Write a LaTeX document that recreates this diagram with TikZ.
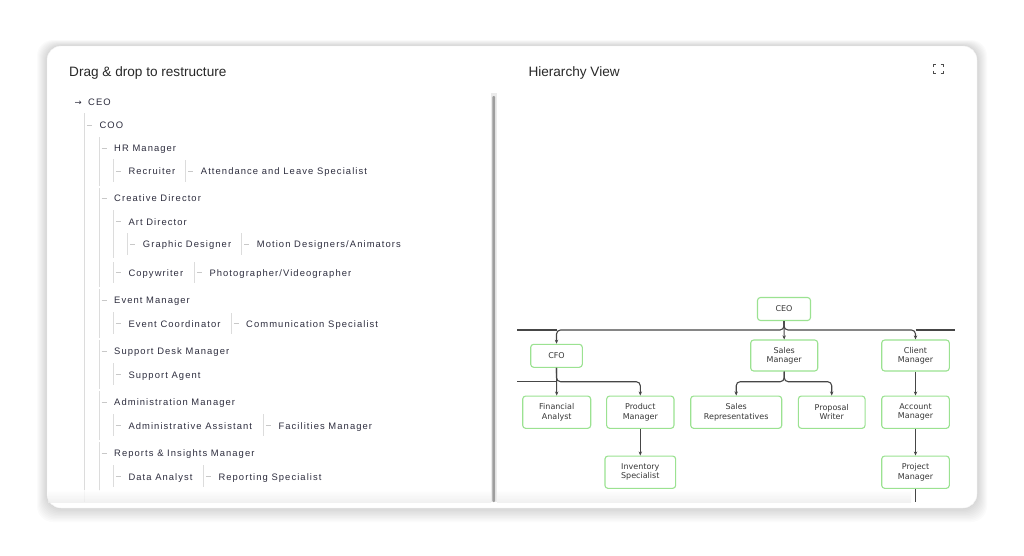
\documentclass[tikz,border=0pt]{standalone}
\usepackage{fontspec}
\setmainfont{Liberation Sans}
\newfontfamily\treefont[LetterSpace=11.5]{Liberation Sans}
\newfontfamily\boxfont{DejaVu Sans}
\newfontfamily\symfont{DejaVu Sans}
\usetikzlibrary{arrows.meta}
\definecolor{treetext}{RGB}{45,45,62}
\definecolor{guidecol}{RGB}{220,220,220}
\definecolor{dashcol}{RGB}{200,200,200}
\definecolor{headcol}{RGB}{40,40,40}
\definecolor{boxgreen}{RGB}{155,226,145}
\definecolor{boxtext}{RGB}{55,55,55}
\definecolor{conncol}{RGB}{70,70,70}
\tikzset{
  guide/.style={draw=guidecol, line width=1pt},
  tdash/.style={draw=dashcol, line width=0.8pt},
  tlabel/.style={anchor=base west, inner sep=0pt, text=treetext, font=\treefont\fontsize{9.4}{11}\selectfont},
  head/.style={anchor=base west, inner sep=0pt, text=headcol, font=\fontsize{13.6}{16}\selectfont},
  hbox/.style={draw=boxgreen, line width=1.1pt, rounded corners=3pt, fill=white, align=center, inner sep=0pt, text=boxtext, font=\boxfont\fontsize{8}{9.4}\selectfont},
  conn/.style={draw=conncol, line width=1.1pt},
  arr/.style={conn, -{Stealth[length=4pt,width=3.4pt]}},
}
\newcommand{\titem}[4]{%
  \draw[tdash] (#2+2.5,#3) -- (#2+7.5,#3);
  \node[tlabel] (#1) at (#2+15,#3+3.4) {#4};}
\newcommand{\tguide}[3]{\draw[guide] (#1,#2) -- (#1,#3);}
\begin{document}
\begin{tikzpicture}[x=1pt,y=-1pt]
\useasboundingbox (0,0) rectangle (1024,555);
\fill[white] (0,0) rectangle (1024,555);
% shadow
\foreach \i in {1,...,10}
  \fill[black, opacity=0.014, rounded corners=16pt] (47-\i,46-0.6*\i) rectangle (977+\i,508+1.4*\i);
% card
\draw[draw=black!5, fill=white, rounded corners=14pt] (47,46) rectangle (977,508);

% headers
\node[head] (lhead) at (69,76.7) {Drag \& drop to restructure};
\node[head] (rhead) at (528.3,76.7) {Hierarchy View};
% expand icon
\begin{scope}[draw=black!70, line width=1.4pt]
\draw (933.5,67.2) -- (933.5,64.5) -- (936.3,64.5);
\draw (940.7,64.5) -- (943.5,64.5) -- (943.5,67.2);
\draw (933.5,70.8) -- (933.5,73.5) -- (936.3,73.5);
\draw (940.7,73.5) -- (943.5,73.5) -- (943.5,70.8);
\end{scope}

% scrollbar / divider
\fill[black!8] (491,92.7) rectangle (496.7,502);
\fill[black!38, rounded corners=1pt] (492.3,96) rectangle (495,502);

% ===== left tree =====
\node[anchor=base west, inner sep=0pt, text=treetext, font=\symfont\fontsize{8.5}{10}\selectfont] (ceoarrow) at (74.5,105) {→};
\node[tlabel] (ceo) at (88,105.4) {CEO};
\tguide{84.3}{113}{502}
\titem{coo}{84.3}{125}{COO}
% level 2 guides
\tguide{99}{137}{186}
\tguide{99}{188}{287}
\tguide{99}{289}{338}
\tguide{99}{340}{389}
\tguide{99}{391}{440}
\tguide{99}{442}{491}
% level 3 guides
\tguide{113.3}{159}{182}
\tguide{113.3}{210}{258}
\tguide{113.3}{262}{283}
\tguide{113.3}{312}{334}
\tguide{113.3}{363}{385}
\tguide{113.3}{414}{436}
\tguide{113.3}{465}{487}
% level 4
\tguide{127.7}{233}{255}
% sibling bars
\tguide{185.7}{160}{182}
\tguide{241.7}{233}{255}
\tguide{194.3}{262}{283}
\tguide{231}{313}{334}
\tguide{263.3}{414}{436}
\tguide{203.3}{465}{487}

\titem{hr}{99}{148}{HR Manager}
\titem{rec}{113.3}{171}{Recruiter}
\titem{att}{185.7}{171}{Attendance and Leave Specialist}
\titem{cd}{99}{198.4}{Creative Director}
\titem{ad}{113.3}{221.6}{Art Director}
\titem{gd}{127.7}{244.3}{Graphic Designer}
\titem{mda}{241.7}{244.3}{Motion Designers/Animators}
\titem{cw}{113.3}{272.7}{Copywriter}
\titem{pv}{194.3}{272.7}{Photographer/Videographer}
\titem{em}{99}{300.3}{Event Manager}
\titem{ec}{113.3}{323.7}{Event Coordinator}
\titem{cs}{231}{323.7}{Communication Specialist}
\titem{sdm}{99}{351.3}{Support Desk Manager}
\titem{sa}{113.3}{374.7}{Support Agent}
\titem{adm}{99}{402.3}{Administration Manager}
\titem{aa}{113.3}{425.7}{Administrative Assistant}
\titem{fm}{263.3}{425.7}{Facilities Manager}
\titem{rim}{99}{453.3}{Reports \& Insights Manager}
\titem{da}{113.3}{476.7}{Data Analyst}
\titem{rs}{203.3}{476.7}{Reporting Specialist}

% ===== right hierarchy =====
\node[hbox, minimum width=53pt, minimum height=23pt] (hceo) at (784,309) {CEO};
\node[hbox, minimum width=51.6pt, minimum height=23pt] (cfo) at (556.5,355.8) {CFO};
\node[hbox, minimum width=67pt, minimum height=31pt] (sm) at (784.2,355.5) {Sales\\Manager};
\node[hbox, minimum width=67.6pt, minimum height=31pt] (cm) at (915.5,355.5) {Client\\Manager};
\node[hbox, minimum width=68pt, minimum height=32.3pt] (fa) at (556.7,412.2) {Financial\\Analyst};
\node[hbox, minimum width=67.3pt, minimum height=32.3pt] (pm) at (640.3,412.2) {Product\\Manager};
\node[hbox, minimum width=91pt, minimum height=32.3pt] (sr) at (736.2,412.2) {Sales\\Representatives};
\node[hbox, minimum width=66.7pt, minimum height=32.3pt] (pw) at (831.7,412.2) {Proposal\\Writer};
\node[hbox, minimum width=67.6pt, minimum height=32.3pt] (am) at (915.5,412.2) {Account\\Manager};
\node[hbox, minimum width=70.7pt, minimum height=32.3pt] (is) at (640.3,472.2) {Inventory\\Specialist};
\node[hbox, minimum width=67.6pt, minimum height=32.3pt] (pjm) at (915.5,472.2) {Project\\Manager};

\coordinate (busL) at (517,330);
\coordinate (busR) at (955,330);
\coordinate (cfoL) at (517,381.7);
\coordinate (smbus) at (784.2,381.7);
\coordinate (pjmD) at (915.5,502);

\draw[arr] (hceo.south) -- (sm.north);
\draw[arr, rounded corners=4pt] (hceo.south) -- (hceo.south |- busL) -| (cfo.north);
\draw[arr, rounded corners=4pt] (hceo.south) -- (hceo.south |- busR) -| (cm.north);
\draw[conn] (cfo.north |- busL) -- (busL);
\draw[conn] (cm.north |- busR) -- (busR);

\draw[arr] (cfo.south) -- (fa.north);
\draw[arr, rounded corners=4pt] (cfo.south) -- (cfo.south |- cfoL) -| (pm.north);
\draw[conn] (cfo.south |- cfoL) -- (cfoL);
\draw[arr] (pm.south) -- (is.north);

\draw[arr, rounded corners=4pt] (sm.south) -- (smbus) -| (sr.north);
\draw[arr, rounded corners=4pt] (sm.south) -- (smbus) -| (pw.north);

\draw[arr] (cm.south) -- (am.north);
\draw[arr] (am.south) -- (pjm.north);
\draw[conn] (pjm.south) -- (pjmD);

% bottom fades
\shade[top color=white, bottom color=black!7, opacity=0.8] (48,490) rectangle (491,502.5);
\shade[top color=white, bottom color=black!7, opacity=0.8] (497,490) rectangle (911,502.5);
\end{tikzpicture}
\end{document}
